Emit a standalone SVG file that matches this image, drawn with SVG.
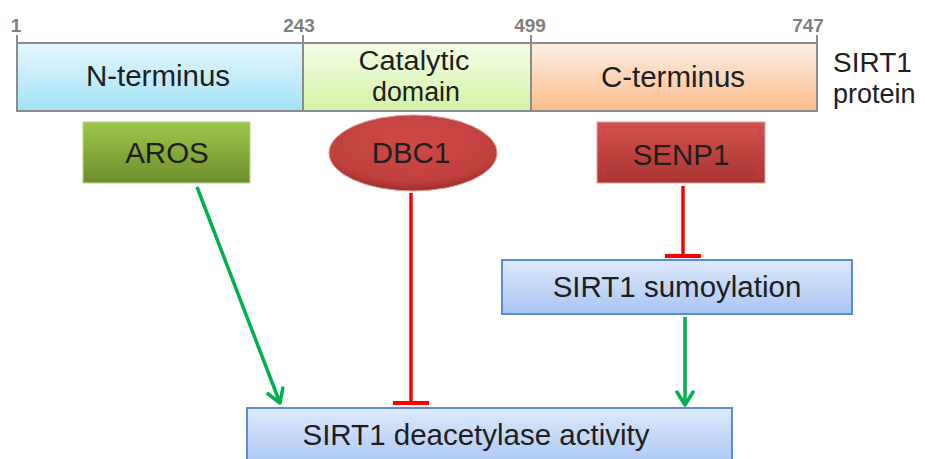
<svg xmlns="http://www.w3.org/2000/svg" width="925" height="459" viewBox="0 0 925 459">
  <defs>
    <linearGradient id="gN" x1="0" y1="0" x2="0" y2="1"><stop offset="0" stop-color="#e4f8fe"/><stop offset="1" stop-color="#a3e1f7"/></linearGradient>
    <linearGradient id="gCat" x1="0" y1="0" x2="0" y2="1"><stop offset="0" stop-color="#f4fde6"/><stop offset="1" stop-color="#d4f3a6"/></linearGradient>
    <linearGradient id="gC" x1="0" y1="0" x2="0" y2="1"><stop offset="0" stop-color="#fdefe4"/><stop offset="1" stop-color="#fbbd8c"/></linearGradient>
    <linearGradient id="gAros" x1="0" y1="0" x2="0" y2="1"><stop offset="0" stop-color="#9dc84a"/><stop offset="1" stop-color="#6d8d2d"/></linearGradient>
    <linearGradient id="gRed" x1="0" y1="0" x2="0" y2="1"><stop offset="0" stop-color="#d4524e"/><stop offset="1" stop-color="#a93431"/></linearGradient>
    <radialGradient id="gEll" cx="0.5" cy="0.35" r="0.65"><stop offset="0" stop-color="#cf4a47"/><stop offset="0.8" stop-color="#c0403d"/><stop offset="1" stop-color="#9e2d2b"/></radialGradient>
    <linearGradient id="gBlue" x1="0" y1="0" x2="0" y2="1"><stop offset="0" stop-color="#dee9fc"/><stop offset="1" stop-color="#a8c5f3"/></linearGradient>
    <marker id="arr" viewBox="0 0 20 20" refX="16" refY="10" markerWidth="20" markerHeight="20" markerUnits="userSpaceOnUse" orient="auto">
      <path d="M3,2 L16,10 L3,18" fill="none" stroke="#00b050" stroke-width="3.5" stroke-linecap="round" stroke-linejoin="round"/>
    </marker>
    <marker id="tee" viewBox="0 0 10 40" refX="6" refY="20" markerWidth="10" markerHeight="40" markerUnits="userSpaceOnUse" orient="auto">
      <path d="M6,2 L6,38" stroke="#ff0000" stroke-width="4"/>
    </marker>
  </defs>
  <style>
    .lbl { font-family: "Liberation Sans", Arial, sans-serif; font-size: 29.5px; fill: #1e1e1e; text-anchor: middle; }
    .num { font-family: "Liberation Sans", Arial, sans-serif; font-size: 19px; font-weight: bold; fill: #7f7f7f; text-anchor: middle; }
    .seg { stroke: #8c8c8c; stroke-width: 2; }
    .tick { stroke: #8c8c8c; stroke-width: 2; }
    .blue { fill: url(#gBlue); stroke: #5b8bd0; stroke-width: 2; }
    .act { stroke: #00b050; stroke-width: 3.5; fill: none; marker-end: url(#arr); }
    .inh { stroke: #ff0000; stroke-width: 3.5; fill: none; marker-end: url(#tee); }
  </style>
  <rect width="925" height="459" fill="#ffffff"/>

  <g id="protein">
    <rect class="seg" x="17" y="43" width="286" height="68" fill="url(#gN)"/>
    <rect class="seg" x="303" y="43" width="228" height="68" fill="url(#gCat)"/>
    <rect class="seg" x="531" y="43" width="286" height="68" fill="url(#gC)"/>
    <line class="tick" x1="17" y1="35" x2="17" y2="43"/>
    <line class="tick" x1="303" y1="35" x2="303" y2="43"/>
    <line class="tick" x1="531" y1="35" x2="531" y2="43"/>
    <line class="tick" x1="817" y1="35" x2="817" y2="43"/>
    <text class="num" x="16" y="32">1</text>
    <text class="num" x="299" y="32">243</text>
    <text class="num" x="530" y="32">499</text>
    <text class="num" x="808" y="32">747</text>
    <text class="lbl" x="158" y="86">N-terminus</text>
    <text class="lbl" x="414" y="70" style="font-size:27px" textLength="111" lengthAdjust="spacingAndGlyphs">Catalytic</text>
    <text class="lbl" x="416" y="101" style="font-size:27px" textLength="88" lengthAdjust="spacingAndGlyphs">domain</text>
    <text class="lbl" x="673" y="87">C-terminus</text>
    <text class="lbl" x="833" y="72" style="text-anchor:start;font-size:28px">SIRT1</text>
    <text class="lbl" x="833" y="103" style="text-anchor:start;font-size:27px">protein</text>
  </g>

  <g id="aros">
    <rect x="83" y="122" width="167" height="61" fill="url(#gAros)" stroke="#bcd487" stroke-width="1"/>
    <text class="lbl" x="167" y="163">AROS</text>
  </g>

  <g id="dbc1">
    <ellipse cx="413" cy="153" rx="84" ry="38" fill="url(#gEll)" stroke="#e09a98" stroke-width="1"/>
    <text class="lbl" x="411" y="163">DBC1</text>
  </g>

  <g id="senp1">
    <rect x="597" y="122" width="168" height="61" fill="url(#gRed)" stroke="#e6a3a1" stroke-width="1"/>
    <rect x="603" y="127" width="156" height="50" fill="none" stroke="#c54541" stroke-width="1" opacity="0.6"/>
    <text class="lbl" x="681" y="165">SENP1</text>
  </g>

  <g id="sumoylation">
    <rect class="blue" x="502" y="260" width="350" height="54"/>
    <text class="lbl" x="677" y="297">SIRT1 sumoylation</text>
  </g>

  <g id="deacetylase">
    <rect class="blue" x="247" y="408" width="485" height="60"/>
    <text class="lbl" x="476" y="445">SIRT1 deacetylase activity</text>
  </g>

  <g id="connectors">
    <line class="act" x1="197" y1="187" x2="280" y2="403"/>
    <line class="inh" x1="411" y1="193" x2="411" y2="403"/>
    <line class="inh" x1="683" y1="186" x2="683" y2="256"/>
    <line class="act" x1="685" y1="317" x2="685" y2="405"/>
  </g>
</svg>
